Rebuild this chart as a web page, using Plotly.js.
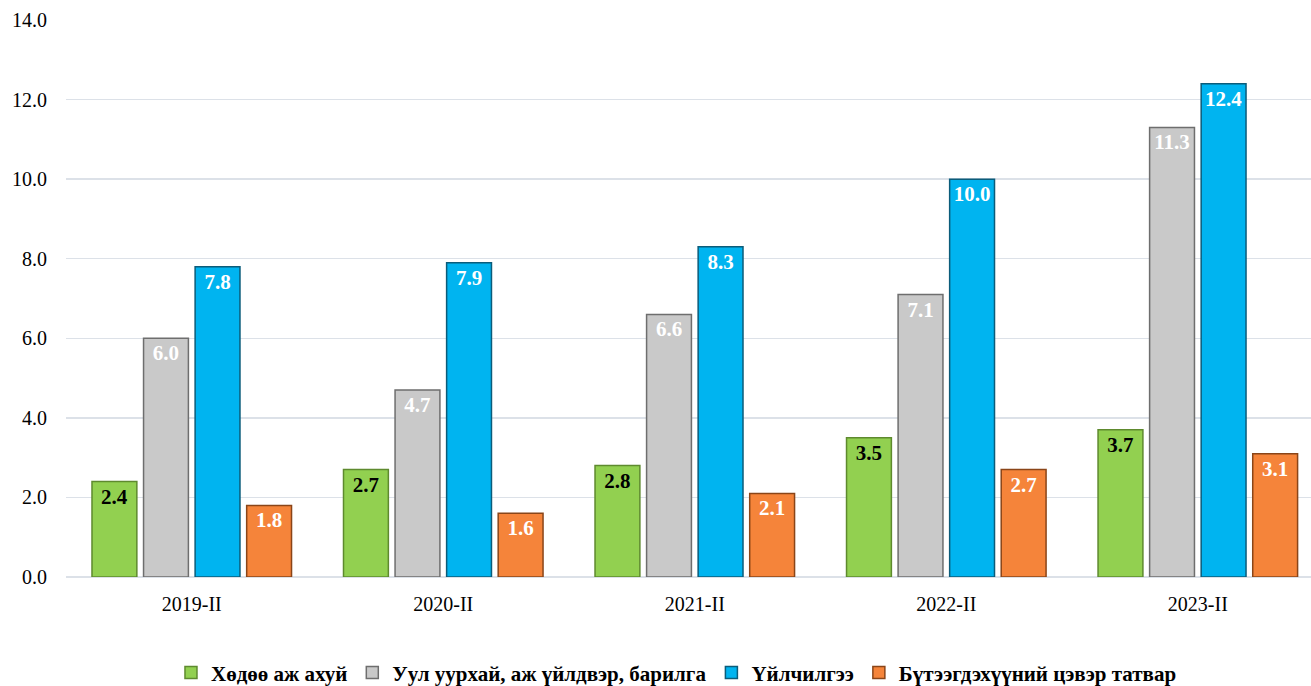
<!DOCTYPE html>
<html>
<head>
<meta charset="utf-8">
<script src="https://cdn.plot.ly/plotly-3.0.1.min.js"></script>
<style>
  body { margin: 0; background: #fff; }
  #chart { width: 1311px; height: 686px; }
</style>
</head>
<body>
<div id="chart"></div>
<script>
// Үзүүлэлтүүд
const periods = ['2019-II', '2020-II', '2021-II', '2022-II', '2023-II'];
const agriculture = [2.4, 2.7, 2.8, 3.5, 3.7];
const industry = [6.0, 4.7, 6.6, 7.1, 11.3];
const services = [7.8, 7.9, 8.3, 10.0, 12.4];
const netTax = [1.8, 1.6, 2.1, 2.7, 3.1];

const seriesNames = [
    'Хөдөө аж ахуй',
    'Уул уурхай, аж үйлдвэр, барилга',
    'Үйлчилгээ',
    'Бүтээгдэхүүний цэвэр татвар'
];
const yTicks = [0, 2, 4, 6, 8, 10, 12, 14];

const serif = '"Times New Roman", "Liberation Serif", serif';

function makeBar(name, values, color, edge, textColor) {
    return {
        type: 'bar',
        name: name,
        x: periods,
        y: values,
        marker: { color: color, line: { color: edge, width: 1.5 } },
        text: values.map(v => v.toFixed(1)),
        textposition: 'inside',
        insidetextanchor: 'end',
        textangle: 0,
        textfont: { family: serif, size: 21, color: textColor, weight: 'bold' },
        hoverinfo: 'x+y+name'
    };
}

const traces = [
    makeBar(seriesNames[0], agriculture, '#92D050', '#5E8A2E', '#000000'),
    makeBar(seriesNames[1], industry, '#C9C9C9', '#6E6E6E', '#ffffff'),
    makeBar(seriesNames[2], services, '#00B4F0', '#0B5C7A', '#ffffff'),
    makeBar(seriesNames[3], netTax, '#F5843A', '#8A4518', '#ffffff')
];

const layout = {
    width: 1311,
    height: 686,
    margin: { l: 66, r: 0, t: 20, b: 109 },
    paper_bgcolor: '#fff',
    plot_bgcolor: '#fff',
    barmode: 'group',
    bargap: 0.18,
    bargroupgap: 0.13,
    font: { family: serif, size: 20, color: '#000' },
    xaxis: {
        type: 'category',
        range: [-0.5, 4.45],
        automargin: false,
        showgrid: false,
        showline: false,
        ticks: '',
        ticklabelstandoff: 13,
        tickfont: { family: serif, size: 20, color: '#000' }
    },
    yaxis: {
        range: [0, 14],
        automargin: false,
        tickvals: yTicks,
        ticktext: yTicks.map(v => v.toFixed(1)),
        showgrid: true,
        gridcolor: '#DCE1E8',
        gridwidth: 1.5,
        zeroline: true,
        zerolinecolor: '#DCE1E8',
        zerolinewidth: 1.5,
        ticks: '',
        ticklabelstandoff: 18,
        tickfont: { family: serif, size: 20, color: '#000' }
    },
    showlegend: true,
    legend: {
        orientation: 'h',
        xref: 'container',
        yref: 'container',
        x: 0.516,
        xanchor: 'center',
        y: 0.019,
        yanchor: 'middle',
        font: { family: serif, size: 21, color: '#000', weight: 'bold' },
        itemwidth: 30,
        tracegroupgap: 0
    }
};

Plotly.newPlot('chart', traces, layout, { displayModeBar: false, staticPlot: true });
</script>
</body>
</html>
